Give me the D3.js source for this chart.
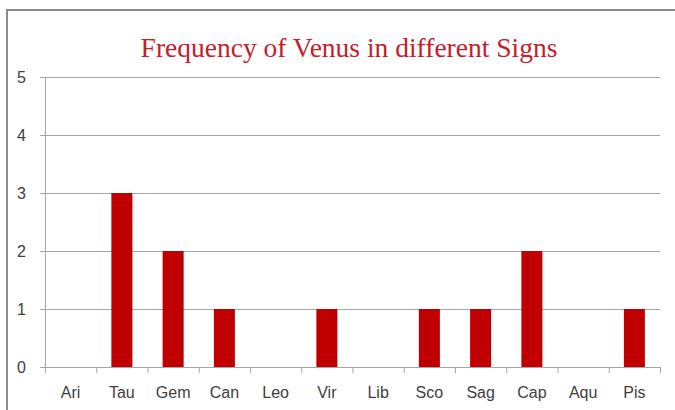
<!DOCTYPE html>
<html>
<head>
<meta charset="utf-8">
<script src="https://cdn.jsdelivr.net/npm/d3@7"></script>
<style>
  body { margin: 0; background: #fff; }
</style>
</head>
<body>
<div id="chart"></div>
<script>
const signs = ['Ari', 'Tau', 'Gem', 'Can', 'Leo', 'Vir', 'Lib', 'Sco', 'Sag', 'Cap', 'Aqu', 'Pis']
const counts = [0, 3, 2, 1, 0, 1, 0, 1, 1, 2, 0, 1]
const yTicks = [0, 1, 2, 3, 4, 5]
const title = 'Frequency of Venus in different Signs'

const chartWidth = 675
const chartHeight = 410
const plotLeft = 45, plotRight = 660, plotTop = 77, plotBottom = 367
const labelFont = "'Liberation Sans', Arial, sans-serif"

const svg = d3
  .select('#chart')
  .append('svg')
  .attr('width', chartWidth)
  .attr('height', chartHeight)

// outer chart frame
svg
  .append('rect')
  .attr('x', 7)
  .attr('y', 10)
  .attr('width', 700)
  .attr('height', 420)
  .attr('fill', 'none')
  .attr('stroke', '#8c8c8c')
  .attr('stroke-width', 2)

const scaleX = d3.scaleBand().domain(signs).range([plotLeft, plotRight]).paddingInner(0.59).paddingOuter(0.295)
const scaleY = d3.scaleLinear().domain([0, 5]).range([plotBottom, plotTop])

// title
svg
  .append('text')
  .attr('x', 349)
  .attr('y', 57)
  .attr('text-anchor', 'middle')
  .attr('fill', '#c3202a')
  .style('font-family', "'Liberation Serif', 'DejaVu Serif', serif")
  .style('font-size', '27.5px')
  .text(title)

// y axis
const axisY = d3.axisLeft(scaleY).tickValues(yTicks).tickFormat(d3.format('d')).tickSize(5).tickPadding(14)
const gy = svg
  .append('g')
  .attr('transform', 'translate(' + plotLeft + ',0)')
  .call(axisY)
gy.select('.domain').attr('stroke', '#a6a6a6')
gy.selectAll('.tick line').attr('stroke', '#a6a6a6')
gy.selectAll('.tick text')
  .attr('fill', '#404040')
  .style('font-family', labelFont)
  .style('font-size', '16px')

// grid lines
svg
  .append('g')
  .selectAll('line')
  .data(yTicks.filter(d => d > 0))
  .enter()
  .append('line')
  .attr('x1', plotLeft)
  .attr('x2', plotRight)
  .attr('y1', d => scaleY(d) + 0.5)
  .attr('y2', d => scaleY(d) + 0.5)
  .attr('stroke', '#a6a6a6')

// bars
svg
  .append('g')
  .selectAll('rect')
  .data(counts)
  .enter()
  .append('rect')
  .attr('x', (d, i) => scaleX(signs[i]))
  .attr('y', d => scaleY(d))
  .attr('width', scaleX.bandwidth())
  .attr('height', d => scaleY(0) - scaleY(d))
  .attr('fill', '#c00000')

// x axis with ticks at band boundaries
const step = scaleX.step()
const gx = svg
  .append('g')
  .attr('transform', 'translate(0,' + plotBottom + ')')
gx.append('line')
  .attr('x1', plotLeft)
  .attr('x2', plotRight)
  .attr('y1', 0.5)
  .attr('y2', 0.5)
  .attr('stroke', '#a6a6a6')
gx.selectAll('.bt')
  .data(d3.range(signs.length + 1))
  .enter()
  .append('line')
  .attr('x1', i => plotLeft + i * step + 0.5)
  .attr('x2', i => plotLeft + i * step + 0.5)
  .attr('y1', 0)
  .attr('y2', 6)
  .attr('stroke', '#a6a6a6')
gx.selectAll('text')
  .data(signs)
  .enter()
  .append('text')
  .attr('x', d => scaleX(d) + scaleX.bandwidth() / 2)
  .attr('y', 31)
  .attr('text-anchor', 'middle')
  .style('font-family', labelFont)
  .style('font-size', '16px')
  .attr('fill', '#404040')
  .text(d => d)
</script>
</body>
</html>
